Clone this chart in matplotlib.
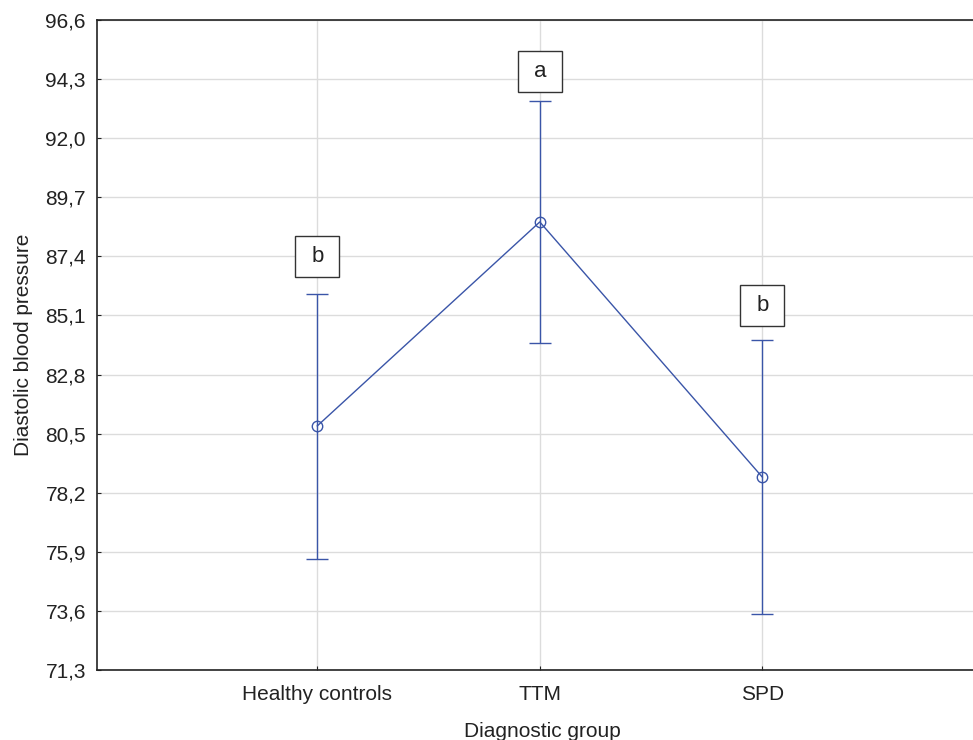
import numpy as np
import matplotlib.pyplot as plt
from matplotlib.patches import Rectangle
from matplotlib.transforms import ScaledTranslation

plt.rcParams['font.family'] = ['Liberation Sans', 'DejaVu Sans']

# data
groups = ['Healthy controls', 'TTM', 'SPD']
means = [80.80, 88.74, 78.81]
upper = [85.93, 93.45, 84.14]
lower = [75.62, 84.03, 73.48]
letters = ['b', 'a', 'b']
letter_y = [87.39, 94.58, 85.49]
yticks = [71.3, 73.6, 75.9, 78.2, 80.5, 82.8, 85.1, 87.4, 89.7, 92.0, 94.3, 96.6]

blue = '#3a55a8'
dark = '#222222'

fig = plt.figure(figsize=(9.73, 7.4), dpi=100)
ax = fig.add_axes([97/973, 70/740, 890/973, 650/740])

x = np.arange(len(groups))
means = np.array(means)
err = [means - np.array(lower), np.array(upper) - means]

ax.errorbar(x, means, yerr=err, color=blue, lw=1, capsize=8, capthick=1,
            marker='o', ms=7.5, mfc='none', mec=blue, mew=1, zorder=3)

# letter boxes of fixed size (in inches) centred on the data point
bw, bh = 0.44, 0.41
for xi, yi, t in zip(x, letter_y, letters):
    tr = fig.dpi_scale_trans + ScaledTranslation(xi, yi, ax.transData)
    ax.add_patch(Rectangle((-bw / 2, -bh / 2), bw, bh, transform=tr,
                           fc='white', ec='#333333', lw=1, zorder=4,
                           clip_on=False))
    ax.text(xi, yi, t, ha='center', va='center', fontsize=16, color=dark,
            zorder=5)

ax.set_xlim(-0.99, 3.01)
ax.set_ylim(71.3, 96.6)
ax.set_xticks(x)
ax.set_xticklabels(groups)
ax.set_yticks(yticks)
ax.set_yticklabels([f'{v:.1f}'.replace('.', ',') for v in yticks])
ax.grid(True, color='#dcdcdc', lw=1)
ax.set_axisbelow(True)
ax.tick_params(direction='in', length=3, labelsize=15, colors=dark)
ax.tick_params(axis='x', pad=11)
ax.tick_params(axis='y', pad=8)
for s in ax.spines.values():
    s.set_color(dark)
    s.set_linewidth(1.2)

ax.set_xlabel('Diagnostic group', fontsize=15, color=dark, labelpad=13)
ax.set_ylabel('Diastolic blood pressure', fontsize=15, color=dark,
              labelpad=9)

fig.savefig('out.png', dpi=100)
